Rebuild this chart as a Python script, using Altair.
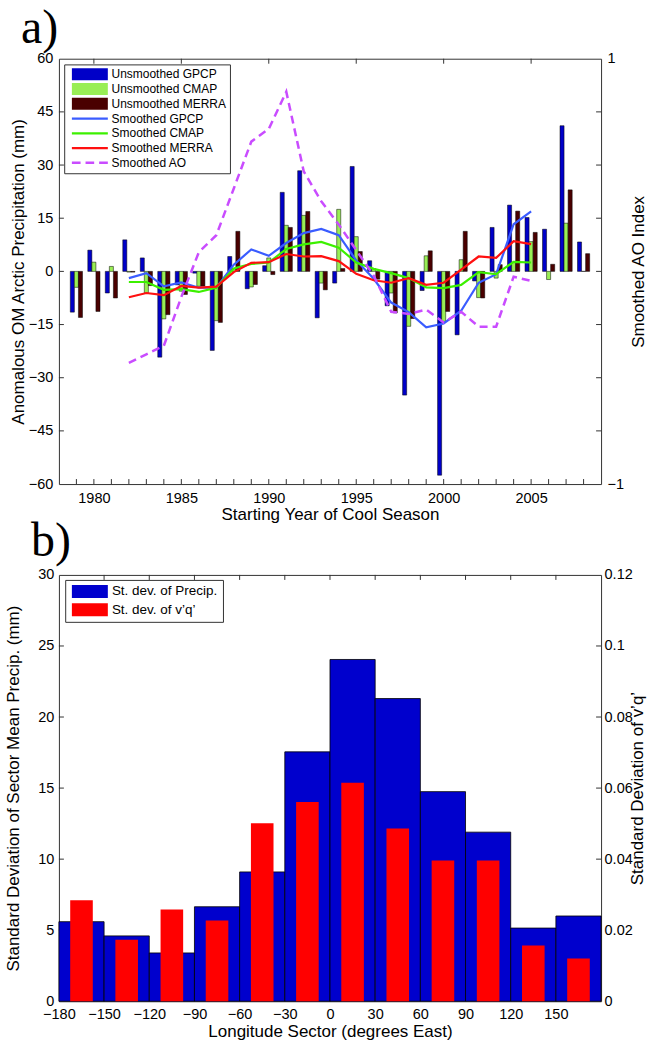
import altair as alt
import pandas as pd

FONT = "Liberation Sans"
SERIF = "Liberation Serif"

# ---------------- panel a: cool-season precipitation anomalies ----------------
years = list(range(1979, 2009))
gpcp = [-11.5, 6.0, -6.1, 8.9, 3.8, -24.2, -3.8, -0.5, -22.3, 4.2,
        -4.9, 1.6, 22.3, 28.4, -13.1, -3.3, 29.6, 3.0, -9.7, -34.9,
        -5.4, -57.5, -17.9, -2.7, 12.4, 18.7, 15.2, 11.9, 41.1, 8.3]
cmap = [-4.5, 2.6, 1.4, -0.2, -6.1, -13.4, -5.6, -4.2, -13.9, 0.8,
        -4.4, 3.8, 13.0, 15.8, -3.3, 17.5, 9.8, 0.8, -6.1, -15.5,
        4.4, -14.1, 3.3, -7.4, -1.9, 2.6, 8.4, -2.3, 13.6, 0.0]
merra = [-13.0, -11.3, -7.5, -0.2, -4.0, -12.2, -6.5, -4.2, -14.4, 11.3,
         -3.7, -0.9, 12.4, 16.9, -5.2, 0.8, 5.6, -2.2, -11.7, -13.3,
         5.8, -11.3, 11.3, -7.5, 1.9, 17.0, 11.0, 2.0, 23.0, 5.0]

smooth_years = list(range(1982, 2006))
gpcp_s = [-1.9, -0.5, -4.2, -3.1, -4.6, -4.6, 1.9, 6.2, 4.4, 8.0, 10.8, 12.0,
          10.2, 3.1, -2.1, -8.8, -11.5, -15.8, -14.7, -11.1, -3.2, -0.8, 13.3, 16.9]
cmap_s = [-3.0, -3.0, -5.2, -5.0, -5.8, -4.6, 0.8, 2.1, 2.5, 6.3, 7.6, 8.3,
          6.7, 2.5, 0.7, -0.5, -1.9, -4.5, -4.7, -3.8, -0.2, -0.8, 2.7, 2.5]
merra_s = [-7.3, -6.1, -6.7, -4.1, -4.6, -4.3, -0.2, 2.4, 2.6, 4.9, 4.2, 4.3,
           2.9, -0.7, -2.5, -3.2, -1.9, -3.8, -3.2, 0.5, 4.2, 3.8, 8.5, 7.7]
ao_s = [-0.43, -0.39, -0.35, -0.12, 0.09, 0.17, 0.39, 0.61, 0.67, 0.845, 0.47, 0.33,
        0.22, 0.10, -0.02, -0.19, -0.20, -0.18, -0.24, -0.19, -0.26, -0.26, -0.025, -0.045]

series_a = ["Unsmoothed GPCP", "Unsmoothed CMAP", "Unsmoothed MERRA",
            "Smoothed GPCP", "Smoothed CMAP", "Smoothed MERRA", "Smoothed AO"]
colors_a = ["#0000c8", "#99ee55", "#4a0000",
            "#3a5cff", "#3cf000", "#ff1010", "#c94cff"]

# ---------------- panel b: sector standard deviations ----------------
sector_west = list(range(-180, 180, 30))
precip_sd = [5.6, 4.6, 3.4, 6.65, 9.1, 17.55, 24.05, 21.3, 14.75, 11.9, 5.15, 6.0]
vq_sd = [0.0284, 0.0173, 0.0258, 0.0227, 0.0501, 0.0561, 0.0615, 0.0486,
         0.0396, 0.0396, 0.0157, 0.0120]
series_b = ["St. dev. of Precip.", "St. dev. of v\u2019q\u2019"]
colors_b = ["#0000cd", "#ff0000"]

panel_labels = ["a)", "b)"]

W = 543
HA, HB = 426, 427
TICK = "#333333"

# legend glyphs: a wide patch for bars, a thin bar for lines, three dashes for AO
BAR_PATH = "M-3,-1H3V1H-3Z"
LINE_PATH = "M-3,-0.19H3V0.19H-3Z"
DASH_PATH = ("M-3,-0.21H-1.55V0.21H-3Z M-0.72,-0.21H0.72V0.21H-0.72Z "
             "M1.55,-0.21H3V0.21H1.55Z")


def xticks(vals, scale, axis, h, top):
    ys = (alt.value(0), alt.value(5)) if top else (alt.value(h - 5), alt.value(h))
    return alt.Chart(pd.DataFrame({"t": vals})).mark_rule(color=TICK, strokeWidth=1).encode(
        x=alt.X("t:Q", scale=scale, axis=axis), y=ys[0], y2=ys[1])


def yticks(vals, scale, axis, w, right):
    xs = (alt.value(w - 5), alt.value(w)) if right else (alt.value(0), alt.value(5))
    return alt.Chart(pd.DataFrame({"t": vals})).mark_rule(color=TICK, strokeWidth=1).encode(
        y=alt.Y("t:Q", scale=scale, axis=axis), x=xs[0], x2=xs[1])


def panel_tag(text, dx, dy):
    return alt.Chart(pd.DataFrame({"tag": [text]})).mark_text(
        font=SERIF, fontSize=48, align="left", baseline="alphabetic", color="black"
    ).encode(x=alt.value(dx), y=alt.value(dy), text="tag:N")


# ================= panel a =================
legend_a = alt.Legend(
    title=None, orient="none", legendX=5.3, legendY=5.7,
    labelFont=FONT, labelFontSize=12, labelColor="black",
    symbolSize=144, symbolStrokeWidth=0, symbolOffset=15.9, labelOffset=15.7,
    rowPadding=2.8, padding=3.8, strokeColor="#333333", fillColor="white",
    symbolOpacity=1,
)

xa = alt.Scale(domain=[1978, 2009], nice=False, zero=False)
ya = alt.Scale(domain=[-60, 60], nice=False, zero=False)
yao = alt.Scale(domain=[-1, 1], nice=False, zero=False)
color_a = alt.Scale(domain=series_a, range=colors_a)

x_axis_a = alt.Axis(
    values=list(range(1980, 2006, 5)), format="d", labelPadding=7,
    title="Starting Year of Cool Season", titlePadding=2)
y_axis_a = alt.Axis(
    orient="left", values=list(range(-60, 61, 15)), format="d", labelPadding=6,
    title="Anomalous OM Arctic Precipitation (mm)",
    titleX=-40, titleY=HA / 2, titleBaseline="middle")
y_axis_ao = alt.Axis(
    orient="right", values=[-1, 0, 1], format="d", labelPadding=6,
    title="Smoothed AO Index", titleAngle=270, titleBaseline="middle",
    titleX=37, titleY=HA / 2)

bars_df = pd.DataFrame({
    "year": years * 3,
    "series": [series_a[0]] * 30 + [series_a[1]] * 30 + [series_a[2]] * 30,
    "value": gpcp + cmap + merra,
})
lines_df = pd.DataFrame({
    "year": smooth_years * 3,
    "series": [series_a[3]] * 24 + [series_a[4]] * 24 + [series_a[5]] * 24,
    "value": gpcp_s + cmap_s + merra_s,
})
ao_df = pd.DataFrame({"year": smooth_years, "series": series_a[6], "value": ao_s})
key_df = pd.DataFrame({"series": series_a, "year": [1990] * 7, "value": [0] * 7})

bars_a = alt.Chart(bars_df).transform_calculate(
    k="indexof(['Unsmoothed GPCP','Unsmoothed CMAP','Unsmoothed MERRA'], datum.series)",
).transform_calculate(
    x0="datum.year + (datum.k - 1.5) * 0.232",
    x1="datum.year + (datum.k - 0.5) * 0.232",
).mark_bar(stroke="black", strokeWidth=0.5).encode(
    x=alt.X("x0:Q", scale=xa, axis=x_axis_a),
    x2="x1:Q",
    y=alt.Y("value:Q", scale=ya, axis=y_axis_a),
    y2=alt.datum(0),
    color=alt.Color("series:N", scale=color_a, legend=None),
)

lines_a = alt.Chart(lines_df).mark_line(strokeWidth=2.2).encode(
    x=alt.X("year:Q", scale=xa, axis=x_axis_a),
    y=alt.Y("value:Q", scale=ya, axis=y_axis_a),
    color=alt.Color("series:N", scale=color_a, legend=None),
)

ticks_a = [
    xticks(years, xa, x_axis_a, HA, False),
    xticks(list(range(1980, 2006, 5)), xa, x_axis_a, HA, True),
    yticks(list(range(-45, 46, 15)), ya, y_axis_a, W, False),
    yticks(list(range(-45, 46, 15)), ya, y_axis_a, W, True),
]

ao_a = alt.Chart(ao_df).mark_line(strokeWidth=2.5, strokeDash=[8, 5]).encode(
    x=alt.X("year:Q", scale=xa, axis=x_axis_a),
    y=alt.Y("value:Q", scale=yao, axis=y_axis_ao),
    color=alt.Color("series:N", scale=color_a, legend=None),
)

# invisible points carrying the combined legend (colour + glyph per series)
key_a = alt.Chart(key_df).mark_point(filled=True, size=0, opacity=1).encode(
    x=alt.X("year:Q", scale=xa, axis=x_axis_a),
    y=alt.Y("value:Q", scale=ya, axis=None),
    color=alt.Color("series:N", scale=alt.Scale(domain=series_a, range=colors_a),
                    legend=legend_a),
    shape=alt.Shape("series:N", scale=alt.Scale(
        domain=series_a, range=[BAR_PATH] * 3 + [LINE_PATH] * 3 + [DASH_PATH]),
        legend=legend_a),
)

panel_a = alt.layer(
    alt.layer(*ticks_a, bars_a, lines_a), ao_a, key_a,
    panel_tag(panel_labels[0], -38, -16),
).resolve_scale(
    y="independent", color="independent", shape="independent"
).properties(width=W, height=HA)

# ================= panel b =================
xb = alt.Scale(domain=[-180, 180], nice=False, zero=False)
ybl = alt.Scale(domain=[0, 30], nice=False, zero=True)
ybr = alt.Scale(domain=[0, 0.12], nice=False, zero=True)
color_b = alt.Scale(domain=series_b, range=colors_b)

legend_b = alt.Legend(
    title=None, orient="none", legendX=6.3, legendY=5,
    labelFont=FONT, labelFontSize=13.5, labelColor="black",
    symbolSize=169, symbolStrokeWidth=0, symbolOffset=13.2, labelOffset=15.3,
    symbolType="M-2.77,-1H2.77V1H-2.77Z",
    rowPadding=3.5, padding=4.75, strokeColor="#333333", fillColor="white",
    symbolOpacity=1,
)

x_axis_b = alt.Axis(
    values=list(range(-180, 151, 30)), format="d", labelPadding=6,
    title="Longitude Sector (degrees East)", titlePadding=3)
y_axis_bl = alt.Axis(
    orient="left", values=list(range(0, 31, 5)), format="d", labelPadding=5,
    title="Standard Deviation of Sector Mean Precip. (mm)",
    titleX=-45, titleY=HB / 2, titleBaseline="middle")
y_axis_br = alt.Axis(
    orient="right", values=[0, 0.02, 0.04, 0.06, 0.08, 0.1, 0.12],
    labelExpr="format(datum.value, '.2~f')",
    labelPadding=3, title="Standard Deviation of v\u2019q\u2019",
    titleAngle=270, titleBaseline="middle", titleX=36, titleY=HB / 2)

precip_df = pd.DataFrame({"lon": sector_west, "sd": precip_sd, "series": series_b[0]})
vq_df = pd.DataFrame({"lon": sector_west, "sd": vq_sd, "series": series_b[1]})
key_b_df = pd.DataFrame({"series": series_b, "lon": [0, 0], "sd": [0, 0]})

blue_b = alt.Chart(precip_df).transform_calculate(
    lon2="datum.lon + 30"
).mark_bar(stroke="black", strokeWidth=0.8).encode(
    x=alt.X("lon:Q", scale=xb, axis=x_axis_b),
    x2="lon2:Q",
    y=alt.Y("sd:Q", scale=ybl, axis=y_axis_bl),
    y2=alt.datum(0),
    color=alt.Color("series:N", scale=color_b, legend=None),
)

red_b = alt.Chart(vq_df).transform_calculate(
    a="datum.lon + 7.5", b="datum.lon + 22.5"
).mark_bar().encode(
    x=alt.X("a:Q", scale=xb, axis=x_axis_b),
    x2="b:Q",
    y=alt.Y("sd:Q", scale=ybr, axis=y_axis_br),
    y2=alt.datum(0),
    color=alt.Color("series:N", scale=color_b, legend=None),
)

key_b = alt.Chart(key_b_df).mark_point(filled=True, size=0, opacity=1).encode(
    x=alt.X("lon:Q", scale=xb, axis=x_axis_b),
    y=alt.Y("sd:Q", scale=ybl, axis=None),
    color=alt.Color("series:N", scale=alt.Scale(domain=series_b, range=colors_b),
                    legend=legend_b),
)

ticks_b = [
    xticks(list(range(-150, 151, 30)), xb, x_axis_b, HB, True),
    yticks(list(range(5, 26, 5)), ybl, y_axis_bl, W, False),
    yticks(list(range(5, 26, 5)), ybl, y_axis_bl, W, True),
]

panel_b = alt.layer(
    alt.layer(*ticks_b, blue_b), red_b, key_b,
    panel_tag(panel_labels[1], -28, -19),
).resolve_scale(y="independent", color="independent").properties(width=W, height=HB)

# plot rectangles are stacked directly; spacing is the gap between the two frames
chart = alt.vconcat(panel_a, panel_b, spacing=91, bounds="flush").resolve_scale(
    color="independent", shape="independent",
).properties(
    padding={"left": 4, "top": 3, "right": 0, "bottom": 0}
).configure_view(
    stroke="#333333", strokeWidth=1
).configure_axis(
    labelFont=FONT, titleFont=FONT, labelFontSize=14.5, titleFontSize=17,
    titleFontWeight="normal", labelColor="black", titleColor="black",
    ticks=False, tickSize=0, domain=False, grid=False,
    labelFlush=False, labelOverlap=False, labelBound=False,
).configure_legend(
    labelFont=FONT,
)

chart.save("out.html", embed_options={"renderer": "svg", "actions": False})
